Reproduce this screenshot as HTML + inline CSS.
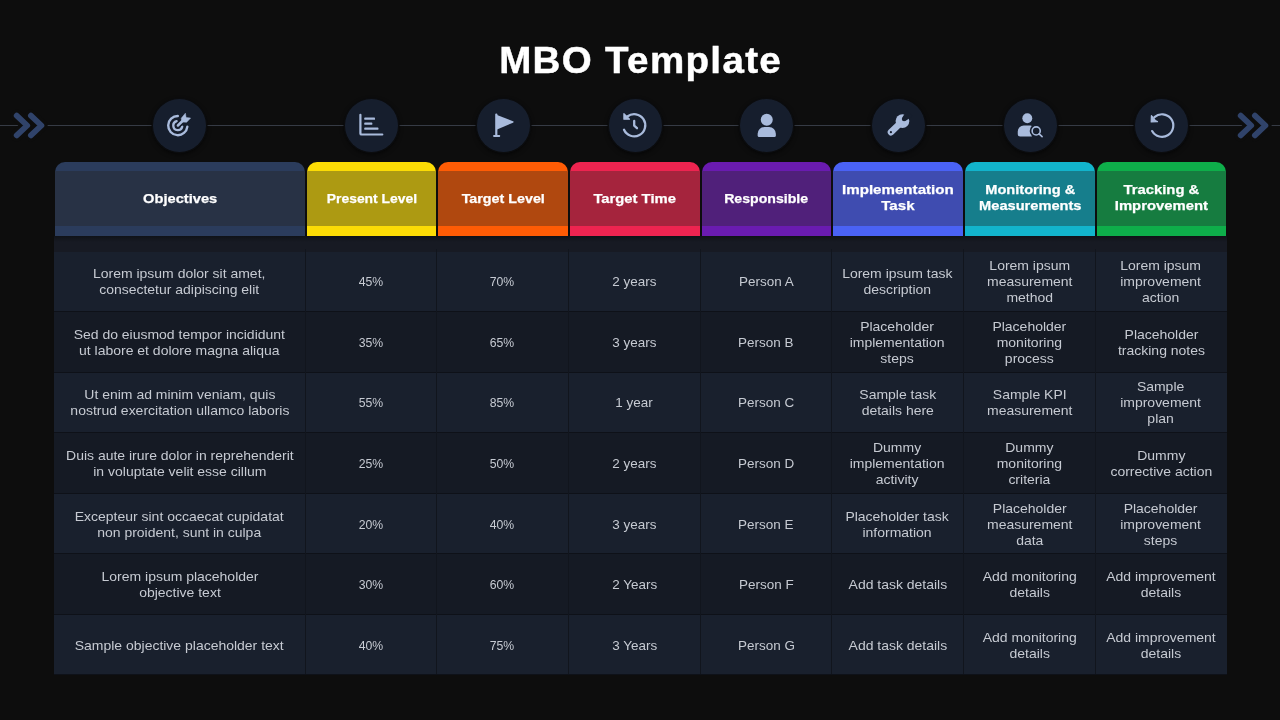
<!DOCTYPE html><html lang="en"><head><meta charset="utf-8"><title>MBO Template</title><style>
*{margin:0;padding:0;box-sizing:border-box}
html,body{width:1280px;height:720px;overflow:hidden;background:#0d0d0d}
body{position:relative;font-family:"Liberation Sans",sans-serif}
.title{position:absolute;left:0;width:1280px;top:36.5px;text-align:center;color:#fff;font-weight:700;font-size:36px;line-height:48px;white-space:nowrap;letter-spacing:1.25px;padding-left:1.25px;-webkit-text-stroke:.45px #fff;transform:scaleX(1.07);transform-origin:640.5px 50%}
.line{position:absolute;left:0;top:124.7px;width:1280px;height:1.4px;background:#363b45}
.chev{position:absolute;top:105px;width:40px;height:40px}
.circ{position:absolute;width:53px;height:53px;border-radius:50%;background:radial-gradient(circle,#161e2d 0,#161e2d 80%,#131a27 100%);box-shadow:0 0 0 1.5px #0b0c0e,0 2px 5px rgba(0,0,0,.7)}
.circ svg{position:absolute;left:.5px;top:.5px;width:52px;height:52px}
.hd{position:absolute;top:162px;height:74px;border-radius:10px 10px 0 0;overflow:hidden}
.hd i{position:absolute;left:0;right:0;top:9px;height:55px;display:block}
.hd b{position:absolute;left:-10px;right:-10px;top:9.5px;height:55px;display:flex;align-items:center;justify-content:center;text-align:center;color:#fff;font-weight:700;font-size:13.5px;line-height:16px;white-space:nowrap}
.band{position:absolute;left:54px;top:236px;width:1173px;height:15.6px;background:linear-gradient(#0f1217,#171a23 6px,#171a23)}
.tb{position:absolute;left:54px;top:251.6px;width:1173px;height:423px;background:#0e1118}
.rw{position:absolute;left:54px;width:1173px;height:59.52px}
.rs{position:absolute;left:54px;width:1173px;height:1px;background:#12151c}
.cs{position:absolute;top:249px;width:1px;height:425.4px;background:#11151d}
.hd b span{display:inline-block;transform:scaleX(1.08);-webkit-text-stroke:.25px #fff}
.c span{display:inline-block;transform:scaleX(1.075)}
.c.n span{transform:scaleX(.94)}
.c.m span{transform:scaleX(1.035)}
.c{position:absolute;display:flex;align-items:center;justify-content:center;text-align:center;color:#c6cad2;font-size:13px;line-height:16px;white-space:nowrap}
</style></head><body>
<div class="title">MBO Template</div>
<div class="line"></div>
<svg class="chev" style="left:10.2px" viewBox="0 0 40 40"><g fill="none" stroke-linecap="round" stroke-linejoin="round"><path d="M6.700 10.700 L17.200 20.500 L6.700 30.300 M20.900 10.700 L31.400 20.500 L20.900 30.300" stroke="#0d0d0d" stroke-width="12.500"/><path d="M6.700 10.700 L17.200 20.500 L6.700 30.300 M20.900 10.700 L31.400 20.500 L20.900 30.300" stroke="#30436a" stroke-width="5.800"/></g></svg>
<svg class="chev" style="left:1234.2px" viewBox="0 0 40 40"><g fill="none" stroke-linecap="round" stroke-linejoin="round"><path d="M6.700 10.700 L17.200 20.500 L6.700 30.300 M20.900 10.700 L31.400 20.500 L20.900 30.300" stroke="#0d0d0d" stroke-width="12.500"/><path d="M6.700 10.700 L17.200 20.500 L6.700 30.300 M20.900 10.700 L31.400 20.500 L20.900 30.300" stroke="#30436a" stroke-width="5.800"/></g></svg>
<div class="circ" style="left:152.70px;top:98.8px"><svg viewBox="0 0 52 52"><g fill="none" stroke="#a9bbdc" stroke-width="2.4" stroke-linecap="round"><path d="M34.35 27.6 A9.6 9.6 0 1 1 24.8 17"/><path d="M29.17 27.69 A4.5 4.5 0 1 1 23.64 22.25"/></g><path d="M30.5 21 L24.8 26.6" stroke="#161e2d" stroke-width="5.6" stroke-linecap="round"/><path d="M30.5 21 L24.9 26.5" stroke="#a9bbdc" stroke-width="2.5" stroke-linecap="round"/><path d="M28.2 19.3 L32.4 14.2 L33.1 18.5 L37.6 19.1 L33.6 23.3 L29 23 Z" fill="#a9bbdc" stroke="#a9bbdc" stroke-width=".5" stroke-linejoin="round"/></svg></div>
<div class="circ" style="left:345.00px;top:98.8px"><svg viewBox="0 0 52 52"><g fill="#a9bbdc"><path d="M13.3 15.8 a1.1 1.1 0 0 1 2.2 0 v18.1 a.5 .5 0 0 0 .5 .5 h20.3 a1.1 1.1 0 0 1 0 2.200 h-20.800 a2.200 2.200 0 0 1 -2.200 -2.200 z"/><rect x="18.3" y="18.6" width="10.700" height="2.200" rx=".6"/><rect x="18.3" y="23.6" width="8" height="2.200" rx=".6"/><rect x="18.3" y="28.6" width="14.100" height="2.200" rx=".6"/></g></svg></div>
<div class="circ" style="left:476.50px;top:98.8px"><svg viewBox="0 0 52 52"><g fill="#a9bbdc"><rect x="18.2" y="14.4" width="2.2" height="23" rx="1"/><rect x="16.1" y="35.9" width="7.1" height="2.1" rx=".9"/><path d="M20 15.9 L36 22.3 Q37.4 23 36 23.700 L20 30.5 Z"/></g></svg></div>
<div class="circ" style="left:608.50px;top:98.8px"><svg viewBox="0 0 52 52"><g fill="none" stroke="#a9bbdc" stroke-width="2.3" stroke-linecap="round" stroke-linejoin="round"><path d="M18.32 17.5 A11.1 11.1 0 1 1 15.01 30.76"/><path d="M25.2 21.9 V26.6 L28 29.2"/></g><path d="M14.900 14.600 L14.900 20.200 L20.500 20.200 Z" fill="#a9bbdc" stroke="#a9bbdc" stroke-width="1.200" stroke-linejoin="round"/></svg></div>
<div class="circ" style="left:740.00px;top:98.8px"><svg viewBox="0 0 52 52"><g fill="#a9bbdc"><circle cx="25.75" cy="20.8" r="6"/><path d="M18.15 37.9 a1.500 1.500 0 0 1 -1.500 -1.500 v-1.600 a6.700 6.700 0 0 1 6.700 -6.700 h4.800 a6.700 6.700 0 0 1 6.700 6.700 v1.600 a1.500 1.500 0 0 1 -1.500 1.500 z"/></g></svg></div>
<div class="circ" style="left:871.50px;top:98.8px"><svg viewBox="0 0 52 52"><circle cx="30.45" cy="22.1" r="6.9" fill="#a9bbdc"/><path d="M29.5 23 L19 33.2" stroke="#a9bbdc" stroke-width="6.6" stroke-linecap="round"/><g fill="#161e2d"><circle cx="32.1" cy="20" r="2.3"/><path d="M30.47 18.37 L34.79 11.37 L40.73 17.31 L33.73 21.63 Z"/><circle cx="18.9" cy="33.2" r="1.100"/></g></svg></div>
<div class="circ" style="left:1003.50px;top:98.8px"><svg viewBox="0 0 52 52"><g fill="#a9bbdc"><circle cx="23.3" cy="19.200" r="4.95"/><path d="M16.25 37.600 a2.500 2.500 0 0 1 -2.500 -2.500 v-2.500 a6 6 0 0 1 6 -6 h6.800 l1.300 .3 v10.700 z"/></g><circle cx="32.2" cy="31.9" r="6.500" fill="#161e2d"/><g fill="none" stroke="#a9bbdc" stroke-width="1.600" stroke-linecap="round"><circle cx="32.2" cy="31.9" r="4.050"/><path d="M35.100 34.800 L38.100 37.700"/></g></svg></div>
<div class="circ" style="left:1135.00px;top:98.8px"><svg viewBox="0 0 52 52"><g transform="translate(0 .4)"><g fill="none" stroke="#a9bbdc" stroke-width="2.200" stroke-linecap="round" stroke-linejoin="round"><path d="M18.44 17.75 A11.3 11.3 0 1 1 16.12 31.63"/></g><path d="M15.400 16.200 L15.200 22.500 L21.500 22.300 Q18.500 21.500 18.300 19.500 Z" fill="#a9bbdc" stroke="#a9bbdc" stroke-width="1.200" stroke-linejoin="round"/></g></svg></div>
<div class="hd" style="left:55.00px;width:250.00px;background:#2b3c5c"><i style="background:#283245"></i><b><span style="transform:scaleX(1.086)">Objectives</span></b></div>
<div class="hd" style="left:307.00px;width:129.00px;background:#fcdc05"><i style="background:#ad9a12"></i><b><span style="transform:scaleX(1.027)">Present Level</span></b></div>
<div class="hd" style="left:438.00px;width:130.00px;background:#ff5c05"><i style="background:#b0480f"></i><b><span style="transform:scaleX(1.059)">Target Level</span></b></div>
<div class="hd" style="left:570.00px;width:130.00px;background:#ee2450"><i style="background:#a5243d"></i><b><span style="transform:scaleX(1.096)">Target Time</span></b></div>
<div class="hd" style="left:702.00px;width:129.00px;background:#6a1bb0"><i style="background:#50207a"></i><b><span style="transform:scaleX(1.046)">Responsible</span></b></div>
<div class="hd" style="left:833.00px;width:130.00px;background:#4a62f5"><i style="background:#3f4cb0"></i><b><span style="transform:translateY(-.7px) scaleX(1.12)">Implementation<br>Task</span></b></div>
<div class="hd" style="left:965.00px;width:130.00px;background:#12b4cc"><i style="background:#167e8c"></i><b><span style="transform:translateY(-.7px) scaleX(1.083)">Monitoring &amp;<br>Measurements</span></b></div>
<div class="hd" style="left:1097.00px;width:129.00px;background:#0eae4a"><i style="background:#167c40"></i><b><span style="transform:translateY(-.7px) scaleX(1.1)">Tracking &amp;<br>Improvement</span></b></div>
<div class="band"></div><div class="tb"></div>
<div class="rw" style="top:251.60px;background:#19202d"></div>
<div class="rw" style="top:312.12px;background:#151a24"></div>
<div class="rw" style="top:372.64px;background:#19202d"></div>
<div class="rw" style="top:433.16px;background:#151a24"></div>
<div class="rw" style="top:493.68px;background:#19202d"></div>
<div class="rw" style="top:554.20px;background:#151a24"></div>
<div class="rw" style="top:614.72px;background:#19202d"></div>
<div class="cs" style="left:305.00px"></div>
<div class="cs" style="left:436.00px"></div>
<div class="cs" style="left:568.00px"></div>
<div class="cs" style="left:700.00px"></div>
<div class="cs" style="left:831.00px"></div>
<div class="cs" style="left:963.00px"></div>
<div class="cs" style="left:1095.00px"></div>
<div class="c" style="left:53.50px;top:252.00px;width:252.00px;height:60.36px"><span>Lorem ipsum dolor sit amet,<br>consectetur adipiscing elit</span></div>
<div class="c n" style="left:305.50px;top:252.00px;width:131.00px;height:60.36px"><span>45%</span></div>
<div class="c n" style="left:436.50px;top:252.00px;width:132.00px;height:60.36px"><span>70%</span></div>
<div class="c m" style="left:568.50px;top:252.00px;width:132.00px;height:60.36px"><span>2 years</span></div>
<div class="c m" style="left:700.50px;top:252.00px;width:131.00px;height:60.36px"><span>Person A</span></div>
<div class="c" style="left:831.50px;top:252.00px;width:132.00px;height:60.36px"><span>Lorem ipsum task<br>description</span></div>
<div class="c" style="left:963.50px;top:252.00px;width:132.00px;height:60.36px"><span>Lorem ipsum<br>measurement<br>method</span></div>
<div class="c" style="left:1095.50px;top:252.00px;width:131.00px;height:60.36px"><span>Lorem ipsum<br>improvement<br>action</span></div>
<div class="c" style="left:53.50px;top:312.66px;width:252.00px;height:60.36px"><span>Sed do eiusmod tempor incididunt<br>ut labore et dolore magna aliqua</span></div>
<div class="c n" style="left:305.50px;top:312.66px;width:131.00px;height:60.36px"><span>35%</span></div>
<div class="c n" style="left:436.50px;top:312.66px;width:132.00px;height:60.36px"><span>65%</span></div>
<div class="c m" style="left:568.50px;top:312.66px;width:132.00px;height:60.36px"><span>3 years</span></div>
<div class="c m" style="left:700.50px;top:312.66px;width:131.00px;height:60.36px"><span>Person B</span></div>
<div class="c" style="left:831.50px;top:312.66px;width:132.00px;height:60.36px"><span>Placeholder<br>implementation<br>steps</span></div>
<div class="c" style="left:963.50px;top:312.66px;width:132.00px;height:60.36px"><span>Placeholder<br>monitoring<br>process</span></div>
<div class="c" style="left:1095.50px;top:312.66px;width:131.00px;height:60.36px"><span>Placeholder<br>tracking notes</span></div>
<div class="c" style="left:53.50px;top:373.32px;width:252.00px;height:60.36px"><span>Ut enim ad minim veniam, quis<br>nostrud exercitation ullamco laboris</span></div>
<div class="c n" style="left:305.50px;top:373.32px;width:131.00px;height:60.36px"><span>55%</span></div>
<div class="c n" style="left:436.50px;top:373.32px;width:132.00px;height:60.36px"><span>85%</span></div>
<div class="c m" style="left:568.50px;top:373.32px;width:132.00px;height:60.36px"><span>1 year</span></div>
<div class="c m" style="left:700.50px;top:373.32px;width:131.00px;height:60.36px"><span>Person C</span></div>
<div class="c" style="left:831.50px;top:373.32px;width:132.00px;height:60.36px"><span>Sample task<br>details here</span></div>
<div class="c" style="left:963.50px;top:373.32px;width:132.00px;height:60.36px"><span>Sample KPI<br>measurement</span></div>
<div class="c" style="left:1095.50px;top:373.32px;width:131.00px;height:60.36px"><span>Sample<br>improvement<br>plan</span></div>
<div class="c" style="left:53.50px;top:433.98px;width:252.00px;height:60.36px"><span>Duis aute irure dolor in reprehenderit<br>in voluptate velit esse cillum</span></div>
<div class="c n" style="left:305.50px;top:433.98px;width:131.00px;height:60.36px"><span>25%</span></div>
<div class="c n" style="left:436.50px;top:433.98px;width:132.00px;height:60.36px"><span>50%</span></div>
<div class="c m" style="left:568.50px;top:433.98px;width:132.00px;height:60.36px"><span>2 years</span></div>
<div class="c m" style="left:700.50px;top:433.98px;width:131.00px;height:60.36px"><span>Person D</span></div>
<div class="c" style="left:831.50px;top:433.98px;width:132.00px;height:60.36px"><span>Dummy<br>implementation<br>activity</span></div>
<div class="c" style="left:963.50px;top:433.98px;width:132.00px;height:60.36px"><span>Dummy<br>monitoring<br>criteria</span></div>
<div class="c" style="left:1095.50px;top:433.98px;width:131.00px;height:60.36px"><span>Dummy<br>corrective action</span></div>
<div class="c" style="left:53.50px;top:494.64px;width:252.00px;height:60.36px"><span>Excepteur sint occaecat cupidatat<br>non proident, sunt in culpa</span></div>
<div class="c n" style="left:305.50px;top:494.64px;width:131.00px;height:60.36px"><span>20%</span></div>
<div class="c n" style="left:436.50px;top:494.64px;width:132.00px;height:60.36px"><span>40%</span></div>
<div class="c m" style="left:568.50px;top:494.64px;width:132.00px;height:60.36px"><span>3 years</span></div>
<div class="c m" style="left:700.50px;top:494.64px;width:131.00px;height:60.36px"><span>Person E</span></div>
<div class="c" style="left:831.50px;top:494.64px;width:132.00px;height:60.36px"><span>Placeholder task<br>information</span></div>
<div class="c" style="left:963.50px;top:494.64px;width:132.00px;height:60.36px"><span>Placeholder<br>measurement<br>data</span></div>
<div class="c" style="left:1095.50px;top:494.64px;width:131.00px;height:60.36px"><span>Placeholder<br>improvement<br>steps</span></div>
<div class="c" style="left:53.50px;top:555.30px;width:252.00px;height:60.36px"><span>Lorem ipsum placeholder<br>objective text</span></div>
<div class="c n" style="left:305.50px;top:555.30px;width:131.00px;height:60.36px"><span>30%</span></div>
<div class="c n" style="left:436.50px;top:555.30px;width:132.00px;height:60.36px"><span>60%</span></div>
<div class="c m" style="left:568.50px;top:555.30px;width:132.00px;height:60.36px"><span>2 Years</span></div>
<div class="c m" style="left:700.50px;top:555.30px;width:131.00px;height:60.36px"><span>Person F</span></div>
<div class="c" style="left:831.50px;top:555.30px;width:132.00px;height:60.36px"><span>Add task details</span></div>
<div class="c" style="left:963.50px;top:555.30px;width:132.00px;height:60.36px"><span>Add monitoring<br>details</span></div>
<div class="c" style="left:1095.50px;top:555.30px;width:131.00px;height:60.36px"><span>Add improvement<br>details</span></div>
<div class="c" style="left:53.50px;top:615.96px;width:252.00px;height:60.36px"><span>Sample objective placeholder text</span></div>
<div class="c n" style="left:305.50px;top:615.96px;width:131.00px;height:60.36px"><span>40%</span></div>
<div class="c n" style="left:436.50px;top:615.96px;width:132.00px;height:60.36px"><span>75%</span></div>
<div class="c m" style="left:568.50px;top:615.96px;width:132.00px;height:60.36px"><span>3 Years</span></div>
<div class="c m" style="left:700.50px;top:615.96px;width:131.00px;height:60.36px"><span>Person G</span></div>
<div class="c" style="left:831.50px;top:615.96px;width:132.00px;height:60.36px"><span>Add task details</span></div>
<div class="c" style="left:963.50px;top:615.96px;width:132.00px;height:60.36px"><span>Add monitoring<br>details</span></div>
<div class="c" style="left:1095.50px;top:615.96px;width:131.00px;height:60.36px"><span>Add improvement<br>details</span></div>
</body></html>
